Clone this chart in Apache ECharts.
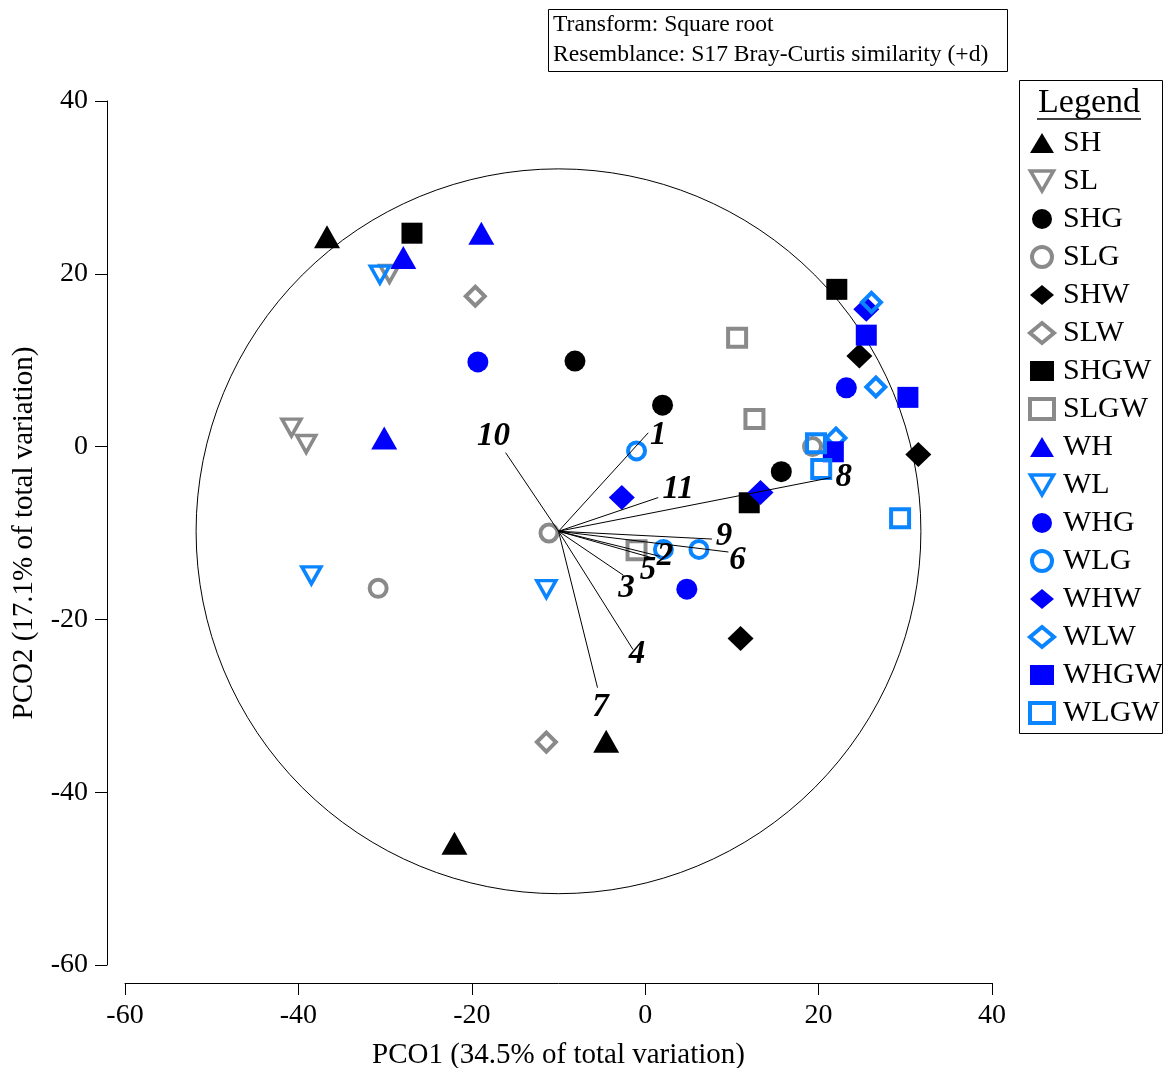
<!DOCTYPE html>
<html>
<head>
<meta charset="utf-8">
<script src="https://cdn.jsdelivr.net/npm/echarts@6/dist/echarts.min.js"></script>
<style>
html,body{margin:0;padding:0;background:#fff;}
#chart{width:1164px;height:1068px;}
</style>
</head>
<body>
<div id="chart"></div>
<script>
// ---------------- DATA ----------------
const groupNames = ['SH','SL','SHG','SLG','SHW','SLW','SHGW','SLGW','WH','WL','WHG','WLG','WHW','WLW','WHGW','WLGW'];

const SH   = [[-36.7,24.3],[-4.5,-34.1],[-22.0,-45.9]];
const SL   = [[-29.5,20.0],[-40.8,2.2],[-39.1,0.3]];
const SHG  = [[-8.1,9.9],[2.0,4.8],[15.7,-2.9]];
const SLG  = [[-30.8,-16.4],[-11.1,-10.0],[19.3,0.0]];
const SHW  = [[24.7,10.5],[31.5,-0.9],[11.0,-22.2]];
const SLW  = [[-19.6,17.4],[-11.4,-34.2]];
const SHGW = [[-26.9,24.7],[22.1,18.2],[12.0,-6.5]];
const SLGW = [[10.6,12.6],[12.6,3.2],[-1.0,-12.0]];
const WH   = [[-27.9,21.9],[-18.9,24.7],[-30.1,1.0]];
const WL   = [[-30.6,19.9],[-38.5,-14.9],[-11.4,-16.5]];
const WHG  = [[-19.3,9.8],[23.2,6.8],[4.8,-16.5]];
const WLG  = [[-1.0,-0.5],[2.1,-11.9],[6.2,-11.9]];
const WHW  = [[-2.7,-5.9],[13.3,-5.3],[25.5,15.9]];
const WLW  = [[26.1,16.7],[26.6,6.9],[22.0,1.0]];
const WHGW = [[25.5,12.9],[30.3,5.7],[21.7,-0.6]];
const WLGW = [[19.7,0.4],[20.3,-2.6],[29.4,-8.3]];

const groupData = [SH,SL,SHG,SLG,SHW,SLW,SHGW,SLGW,WH,WL,WHG,WLG,WHW,WLW,WHGW,WLGW];

// vector overlay
const vectorLabels = ['1','2','3','4','5','6','7','8','9','10','11'];
const vectorX = [0.35, 1.7, -2.5, -1.4, 0.9, 9.6, -5.5, 21.4, 7.7, -16.1, 1.5];
const vectorY = [1.6, -12.7, -14.9, -23.5, -12.9, -12.2, -27.9, -3.6, -10.7, -0.7, -5.9];
const vectorOrigin = [-10.0, -9.8];
const circleRadius = 41.8;

const xTicks = [-60, -40, -20, 0, 20, 40];
const yTicks = [-60, -40, -20, 0, 20, 40];

// ---------------- STYLE ----------------
const FONT = "'Liberation Serif','Times New Roman',serif";
const BLACK = '#000000', GRAY = '#8a8a8a', BLUE = '#0000ff', LBLUE = '#0a85ff';
const DOWN_TRI = 'path://M0,0L20,0L10,17.32Z';

function filled(symbol, size, color){ return {symbol, size, itemStyle:{color, borderWidth:0, opacity:1}}; }
function hollow(symbol, size, color, bw){ return {symbol, size, itemStyle:{color:'rgba(255,255,255,0)', borderColor:color, borderWidth:bw, opacity:1}}; }

const groupStyles = [
  filled('triangle',[26,23],BLACK),
  hollow(DOWN_TRI,[19,17],GRAY,3.5),
  filled('circle',21,BLACK),
  hollow('circle',17,GRAY,4),
  filled('diamond',[26,25],BLACK),
  hollow('diamond',19,GRAY,4),
  filled('rect',21,BLACK),
  hollow('rect',18,GRAY,4),
  filled('triangle',[26,23],BLUE),
  hollow(DOWN_TRI,[19,17],LBLUE,3.5),
  filled('circle',21,BLUE),
  hollow('circle',17,LBLUE,4),
  filled('diamond',[26,25],BLUE),
  hollow('diamond',19,LBLUE,4),
  filled('rect',21,BLUE),
  hollow('rect',18,LBLUE,4)
];

// label offsets (px) for vector labels
const vectorLabelOffsets = [[10,3],[5,0],[3,13],[4,5],[-5,12],[9,8],[3,20],[13,0],[12,-3],[-12,-16],[20,-8]];

// ---------------- BUILD ----------------
const chart = echarts.init(document.getElementById('chart'), null, {renderer:'canvas'});

const scatterSeries = groupNames.map((name,i)=>({
  name,
  type:'scatter',
  data: groupData[i],
  symbol: groupStyles[i].symbol,
  symbolSize: groupStyles[i].size,
  symbolKeepAspect: false,
  itemStyle: groupStyles[i].itemStyle,
  emphasis:{disabled:true},
  z: 3 + i*0.01
}));

const circleSeries = {
  type:'custom',
  name:'circle',
  data:[[vectorOrigin[0], vectorOrigin[1], circleRadius]],
  encode:{x:0,y:1},
  silent:true,
  z:2,
  renderItem:function(params, api){
    const c = api.coord([api.value(0), api.value(1)]);
    const r = api.size([api.value(2), 0])[0];
    return {type:'circle', shape:{cx:c[0], cy:c[1], r:r}, style:{fill:'none', stroke:'#000', lineWidth:1}};
  }
};

const vectorSeries = {
  type:'custom',
  name:'vectors',
  data: vectorX.map((x,i)=>[x, vectorY[i], i]),
  encode:{x:0,y:1},
  silent:true,
  z:5,
  renderItem:function(params, api){
    const o = api.coord(vectorOrigin);
    const e = api.coord([api.value(0), api.value(1)]);
    const i = api.value(2);
    const off = vectorLabelOffsets[i];
    return {type:'group', children:[
      {type:'line', shape:{x1:o[0], y1:o[1], x2:e[0], y2:e[1]}, style:{stroke:'#000', lineWidth:1}},
      {type:'text', x:e[0]+off[0], y:e[1]+off[1], style:{text:vectorLabels[i], fill:'#000', font:'italic bold 33px '+FONT, textAlign:'center', textVerticalAlign:'middle'}}
    ]};
  }
};

const option = {
  animation:false,
  backgroundColor:'#ffffff',
  grid:{left:125, right:172, top:101, bottom:103, containLabel:false, outerBoundsMode:'none'},
  xAxis:{
    type:'value', min:xTicks[0], max:xTicks[xTicks.length-1], interval:20,
    offset:18,
    name:'PCO1 (34.5% of total variation)', nameLocation:'middle', nameGap:58,
    nameTextStyle:{fontFamily:FONT, fontSize:29, color:'#000'},
    axisLine:{show:true, onZero:false, lineStyle:{color:'#000', width:1}},
    axisTick:{show:true, length:12, lineStyle:{color:'#000'}},
    axisLabel:{fontFamily:FONT, fontSize:28, color:'#000', margin:19},
    splitLine:{show:false}
  },
  yAxis:{
    type:'value', min:yTicks[0], max:yTicks[yTicks.length-1], interval:20,
    offset:18,
    name:'PCO2 (17.1% of total variation)', nameLocation:'middle', nameGap:68, nameRotate:90,
    nameTextStyle:{fontFamily:FONT, fontSize:29, color:'#000'},
    axisLine:{show:true, onZero:false, lineStyle:{color:'#000', width:1}},
    axisTick:{show:true, length:12, lineStyle:{color:'#000'}},
    axisLabel:{fontFamily:FONT, fontSize:28, color:'#000', margin:19},
    splitLine:{show:false}
  },
  legend:{
    data: groupNames,
    orient:'vertical',
    left:1028, top:128,
    padding:0,
    itemWidth:24, itemHeight:20, itemGap:8,
    selectedMode:false,
    itemStyle:{borderWidth:'inherit'},
    textStyle:{fontFamily:FONT, fontSize:30, color:'#000', padding:[0,0,0,4]}
  },
  graphic:[
    {type:'rect', shape:{x:548.5, y:9.5, width:459, height:62}, style:{fill:'none', stroke:'#000', lineWidth:1}, silent:true},
    {type:'text', x:553, y:25, style:{text:'Transform: Square root', font:'23.6px '+FONT, fill:'#000', textVerticalAlign:'middle', textAlign:'left'}, silent:true},
    {type:'text', x:553, y:55, style:{text:'Resemblance: S17 Bray-Curtis similarity (+d)', font:'23.6px '+FONT, fill:'#000', textVerticalAlign:'middle', textAlign:'left'}, silent:true},
    {type:'rect', shape:{x:1019.5, y:80.5, width:143, height:653}, style:{fill:'none', stroke:'#000', lineWidth:1}, silent:true},
    {type:'text', x:1089, y:103, style:{text:'Legend', font:'34px '+FONT, fill:'#000', textVerticalAlign:'middle', textAlign:'center'}, silent:true},
    {type:'line', shape:{x1:1037, y1:119, x2:1141, y2:119}, style:{stroke:'#000', lineWidth:1.5}, silent:true}
  ],
  series:[circleSeries].concat(scatterSeries).concat([vectorSeries])
};

chart.setOption(option);
</script>
</body>
</html>
